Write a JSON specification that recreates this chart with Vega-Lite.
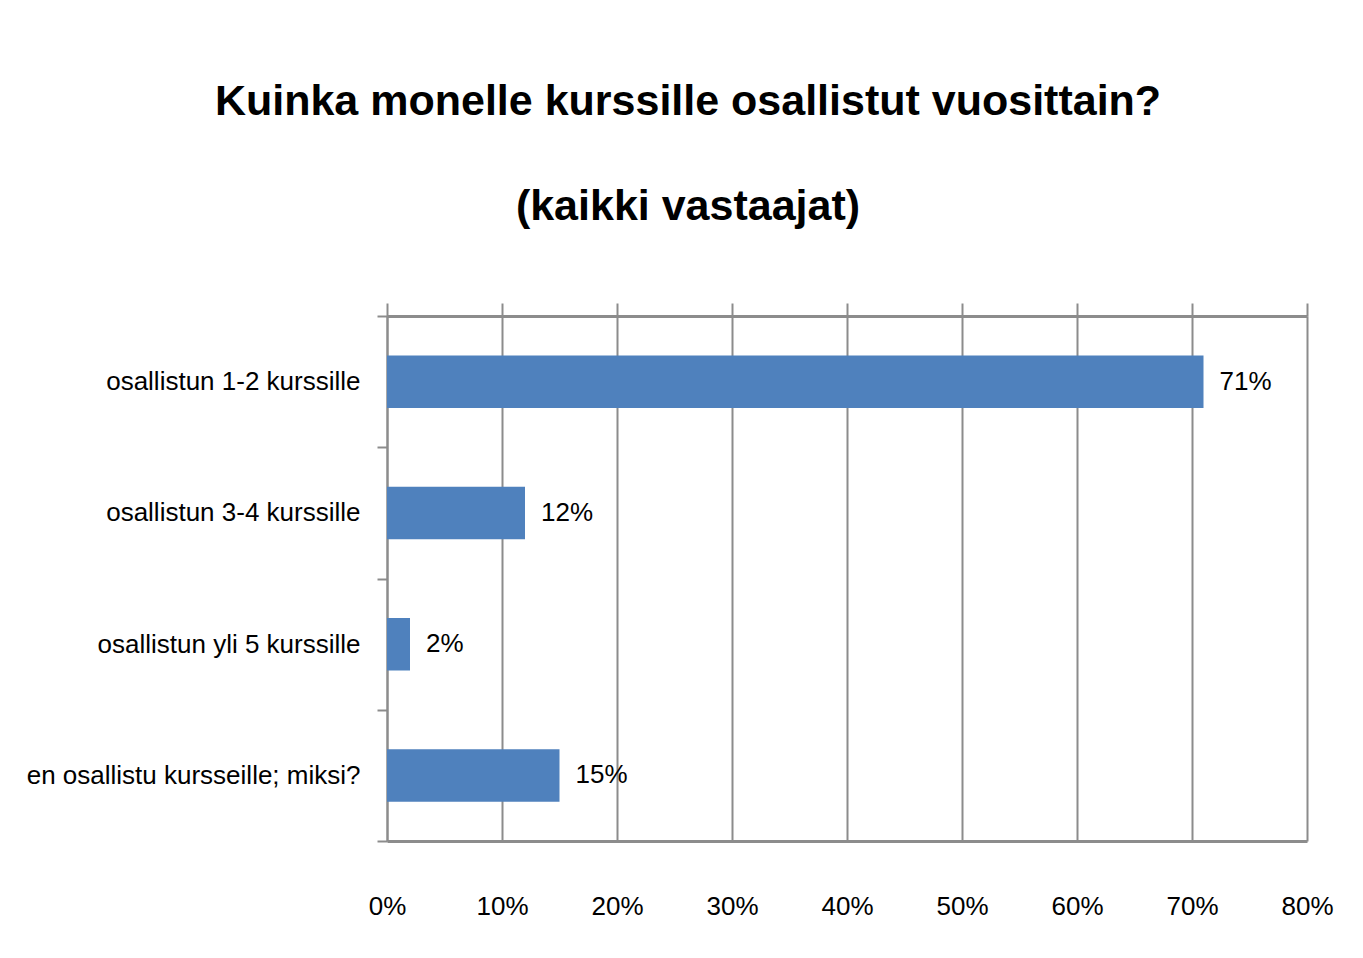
{
  "$schema": "https://vega.github.io/schema/vega-lite/v6.json",
  "width": 920,
  "height": 525,
  "autosize": {"type": "none"},
  "padding": {"left": 387, "top": 316, "right": 56, "bottom": 117},
  "background": "white",
  "title": {
    "text": ["Kuinka monelle kurssille osallistut vuosittain?", "(kaikki vastaajat)"],
    "font": "Liberation Sans",
    "fontSize": 43,
    "fontWeight": "bold",
    "color": "#000000",
    "anchor": "middle",
    "dx": -159,
    "lineHeight": 105,
    "offset": 73
  },
  "config": {
    "view": {"stroke": null},
    "font": "Liberation Sans"
  },
  "data": {
    "values": [
      {"vastaus": "osallistun 1-2 kurssille", "osuus": 0.71},
      {"vastaus": "osallistun 3-4 kurssille", "osuus": 0.12},
      {"vastaus": "osallistun yli 5 kurssille", "osuus": 0.02},
      {"vastaus": "en osallistu kursseille; miksi?", "osuus": 0.15}
    ]
  },
  "encoding": {
    "y": {
      "field": "vastaus",
      "type": "nominal",
      "sort": null,
      "title": null,
      "scale": {"paddingInner": 0, "paddingOuter": 0},
      "axis": {
        "orient": "left",
        "domainColor": "#8c8c8c",
        "domainWidth": 2,
        "tickColor": "#8c8c8c",
        "tickWidth": 2,
        "tickSize": 10,
        "tickBand": "extent",
        "labelFontSize": 26,
        "labelColor": "#000000",
        "labelPadding": 17,
        "labelLimit": 380
      }
    },
    "x": {
      "field": "osuus",
      "type": "quantitative",
      "scale": {"domain": [0, 0.8], "nice": false},
      "title": null
    }
  },
  "layer": [
    {
      "mark": {"type": "bar", "color": "#4F81BD", "height": {"band": 0.4}},
      "encoding": {
        "x": {
          "field": "osuus",
          "type": "quantitative",
          "title": null,
          "axis": {
            "orient": "top",
            "values": [0, 0.1, 0.2, 0.3, 0.4, 0.5, 0.6, 0.7, 0.8],
            "labels": false,
            "grid": true,
            "gridColor": "#8c8c8c",
            "gridWidth": 2,
            "gridOpacity": 1,
            "domainColor": "#8c8c8c",
            "domainWidth": 3,
            "tickColor": "#8c8c8c",
            "tickWidth": 2,
            "tickSize": 13
          }
        }
      }
    },
    {
      "mark": {"type": "text", "align": "left", "baseline": "middle", "dx": 16, "fontSize": 26, "color": "#000000"},
      "encoding": {
        "text": {"field": "osuus", "type": "quantitative", "format": ".0%"},
        "x": {
          "field": "osuus",
          "type": "quantitative",
          "title": null,
          "axis": {
            "orient": "bottom",
            "values": [0, 0.1, 0.2, 0.3, 0.4, 0.5, 0.6, 0.7, 0.8],
            "format": ".0%",
            "grid": false,
            "ticks": false,
            "tickSize": 0,
            "labelFlush": false,
            "labelBaseline": "middle",
            "domainColor": "#8c8c8c",
            "domainWidth": 3,
            "labelFontSize": 26,
            "labelColor": "#000000",
            "labelPadding": 65
          }
        }
      }
    }
  ],
  "resolve": {"axis": {"x": "independent"}}
}
